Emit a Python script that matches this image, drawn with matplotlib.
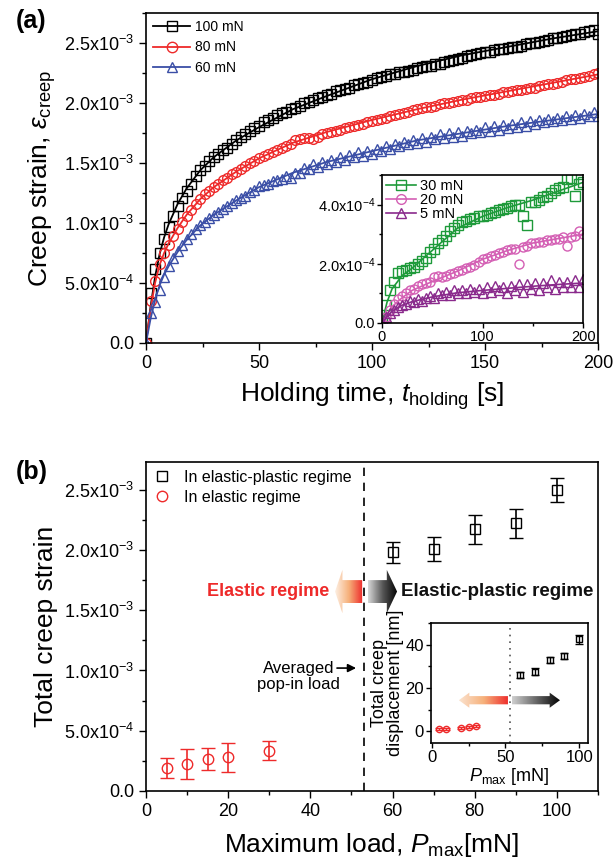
import numpy as np
import matplotlib
matplotlib.use('Agg')
import matplotlib.pyplot as plt
from matplotlib.patches import Polygon
from matplotlib.lines import Line2D
from matplotlib.colors import LinearSegmentedColormap
from matplotlib.ticker import FixedLocator, FixedFormatter, MultipleLocator

plt.rcParams['font.family'] = ['Liberation Sans', 'DejaVu Sans']
plt.rcParams['mathtext.fontset'] = 'custom'
plt.rcParams['mathtext.rm'] = 'Liberation Sans'
plt.rcParams['mathtext.it'] = 'Liberation Sans:italic'
plt.rcParams['mathtext.bf'] = 'Liberation Sans:bold'
plt.rcParams['axes.linewidth'] = 1.2

# ---------------- Panel (a) data ----------------
t_main = np.arange(0, 201, 2)
strain_100 = [0.00, 0.42, 0.62, 0.75, 0.87, 0.97, 1.06, 1.14, 1.21, 1.27,
              1.33, 1.39, 1.44, 1.48, 1.52, 1.55, 1.58, 1.61, 1.63, 1.66,
              1.69, 1.72, 1.74, 1.77, 1.79, 1.81, 1.84, 1.86, 1.88, 1.90,
              1.92, 1.93, 1.95, 1.96, 1.98, 2.00, 2.01, 2.03, 2.04, 2.05,
              2.07, 2.08, 2.10, 2.11, 2.12, 2.13, 2.15, 2.16, 2.17, 2.18,
              2.19, 2.21, 2.22, 2.23, 2.24, 2.24, 2.26, 2.26, 2.27, 2.28,
              2.29, 2.30, 2.31, 2.31, 2.33, 2.33, 2.34, 2.35, 2.36, 2.37,
              2.38, 2.39, 2.40, 2.41, 2.42, 2.43, 2.43, 2.44, 2.45, 2.45,
              2.46, 2.47, 2.47, 2.48, 2.49, 2.50, 2.50, 2.51, 2.52, 2.53,
              2.54, 2.54, 2.55, 2.56, 2.57, 2.58, 2.58, 2.59, 2.60, 2.61,
              2.58]
strain_80 = [0.00, 0.35, 0.52, 0.66, 0.75, 0.82, 0.89, 0.95, 1.01, 1.06,
             1.11, 1.16, 1.20, 1.24, 1.27, 1.30, 1.33, 1.36, 1.38, 1.41,
             1.43, 1.45, 1.48, 1.50, 1.52, 1.54, 1.56, 1.58, 1.59, 1.61,
             1.63, 1.64, 1.66, 1.69, 1.70, 1.71, 1.71, 1.70, 1.72, 1.74,
             1.75, 1.76, 1.77, 1.78, 1.79, 1.80, 1.81, 1.82, 1.83, 1.84,
             1.85, 1.86, 1.87, 1.88, 1.89, 1.90, 1.91, 1.92, 1.93, 1.94,
             1.95, 1.96, 1.97, 1.97, 1.98, 1.99, 2.00, 2.00, 2.01, 2.02,
             2.03, 2.03, 2.04, 2.05, 2.05, 2.06, 2.07, 2.07, 2.08, 2.09,
             2.09, 2.10, 2.11, 2.11, 2.12, 2.13, 2.13, 2.14, 2.15, 2.16,
             2.16, 2.17, 2.18, 2.19, 2.20, 2.20, 2.21, 2.22, 2.23, 2.24,
             2.25]
strain_60 = [0.00, 0.25, 0.34, 0.44, 0.55, 0.64, 0.71, 0.77, 0.82, 0.87,
             0.91, 0.95, 0.98, 1.01, 1.04, 1.07, 1.09, 1.12, 1.14, 1.17,
             1.19, 1.21, 1.23, 1.26, 1.28, 1.31, 1.32, 1.33, 1.35, 1.36,
             1.37, 1.39, 1.38, 1.42, 1.42, 1.46, 1.45, 1.49, 1.47, 1.51,
             1.49, 1.53, 1.51, 1.55, 1.53, 1.57, 1.55, 1.59, 1.56, 1.60,
             1.58, 1.62, 1.60, 1.64, 1.62, 1.66, 1.64, 1.68, 1.66, 1.69,
             1.67, 1.71, 1.68, 1.72, 1.70, 1.74, 1.71, 1.75, 1.72, 1.76,
             1.73, 1.77, 1.75, 1.78, 1.76, 1.80, 1.77, 1.81, 1.78, 1.82,
             1.79, 1.83, 1.80, 1.84, 1.81, 1.85, 1.83, 1.86, 1.84, 1.87,
             1.85, 1.88, 1.86, 1.89, 1.87, 1.90, 1.88, 1.91, 1.89, 1.93,
             1.89]
t_fit = [0, 2, 4, 6, 8, 10, 14, 18, 24, 30, 40, 50, 65, 80, 100, 120, 140, 160, 180, 200]
fit_100 = [0, 0.30, 0.55, 0.74, 0.88, 0.99, 1.16, 1.29, 1.44, 1.55, 1.69, 1.80, 1.95, 2.06, 2.20, 2.31, 2.40, 2.47, 2.54, 2.60]
fit_80 = [0, 0.28, 0.50, 0.65, 0.75, 0.83, 0.96, 1.07, 1.20, 1.30, 1.43, 1.54, 1.67, 1.76, 1.86, 1.95, 2.03, 2.10, 2.17, 2.24]
fit_60 = [0, 0.20, 0.36, 0.48, 0.57, 0.64, 0.76, 0.86, 0.98, 1.07, 1.19, 1.30, 1.42, 1.51, 1.60, 1.69, 1.75, 1.81, 1.86, 1.91]
labels_a = ['100 mN', '80 mN', '60 mN']

# inset (a)
t_ins = np.arange(0, 201, 4)
strain_30 = [0.0, 0.6, 1.1, 1.4, 1.7, 1.75, 1.8, 1.85, 1.9, 2.0,
             2.1, 2.2, 2.4, 2.5, 2.7, 2.8, 2.95, 3.1, 3.2, 3.3,
             3.4, 3.45, 3.5, 3.55, 3.6, 3.6, 3.65, 3.7, 3.75, 3.8,
             3.85, 3.9, 3.95, 4.0, 4.0, 3.6, 3.3, 4.1, 4.1, 4.15,
             4.25, 4.3, 4.4, 4.5, 4.55, 4.6, 4.85, 4.9, 4.3, 4.7,
             4.75]
strain_20 = [0.0, 0.2, 0.45, 0.65, 0.8, 0.9, 1.0, 1.1, 1.15, 1.25,
             1.3, 1.35, 1.4, 1.55, 1.6, 1.55, 1.6, 1.65, 1.7, 1.75,
             1.8, 1.85, 1.9, 1.95, 2.05, 2.15, 2.2, 2.25, 2.3, 2.35,
             2.4, 2.45, 2.5, 2.5, 2.0, 2.55, 2.6, 2.7, 2.7, 2.75,
             2.75, 2.8, 2.8, 2.85, 2.85, 2.9, 2.6, 2.9, 2.95, 3.1,
             3.0]
strain_5 = [0.0, 0.2, 0.35, 0.45, 0.55, 0.6, 0.65, 0.75, 0.7, 0.8,
            0.75, 0.85, 0.9, 0.85, 1.0, 0.95, 1.05, 0.95, 1.1, 1.0,
            1.1, 1.0, 1.15, 1.05, 1.15, 1.0, 1.2, 1.05, 1.25, 1.1,
            1.2, 1.0, 1.25, 1.1, 1.3, 1.05, 1.3, 1.15, 1.35, 1.1,
            1.35, 1.2, 1.45, 1.15, 1.4, 1.2, 1.4, 1.2, 1.45, 1.2,
            1.5]
t_fit_ins = [0, 5, 10, 20, 30, 50, 75, 100, 125, 150, 175, 200]
fit_30 = [0, 0.7, 1.15, 1.6, 1.85, 2.45, 3.2, 3.6, 3.9, 4.15, 4.45, 4.75]
fit_20 = [0, 0.3, 0.55, 0.85, 1.1, 1.4, 1.75, 2.15, 2.45, 2.7, 2.85, 3.0]
fit_5 = [0, 0.2, 0.4, 0.6, 0.72, 0.88, 1.02, 1.1, 1.17, 1.24, 1.3, 1.35]
labels_ins = ['30 mN', '20 mN', '5 mN']

# ---------------- Panel (b) data ----------------
P_ep = [60, 70, 80, 90, 100]
S_ep = [1.98, 2.01, 2.17, 2.22, 2.50]
E_ep = [0.09, 0.10, 0.12, 0.12, 0.10]
P_el = [5, 10, 15, 20, 30]
S_el = [0.19, 0.225, 0.265, 0.28, 0.335]
E_el = [0.08, 0.125, 0.09, 0.12, 0.08]
popin_load = 53
labels_b = ['In elastic-plastic regime', 'In elastic regime']

# inset (b)
D_ep = [26, 27.5, 33, 34.8, 42.5]
DE_ep = [1.5, 1.5, 1.5, 1.5, 2.0]
P_el_ins = [5, 10, 20, 25, 30]
D_el = [0.8, 0.9, 1.6, 2.0, 2.3]
DE_el = [0.5, 0.5, 0.5, 0.5, 0.5]

yt_a = [0, 0.5e-3, 1.0e-3, 1.5e-3, 2.0e-3, 2.5e-3]
ytl_a = ['0.0', r'5.0x10$^{-4}$', r'1.0x10$^{-3}$', r'1.5x10$^{-3}$', r'2.0x10$^{-3}$', r'2.5x10$^{-3}$']
yt_ins = [0, 2e-4, 4e-4]
ytl_ins = ['0.0', r'2.0x10$^{-4}$', r'4.0x10$^{-4}$']

RED = '#ee2a2a'
BLUE = '#3a4ea6'
GREEN = '#1e9a3a'
PINK = '#d45fb4'
PURPLE = '#8a2a8c'

fig = plt.figure(figsize=(6.15, 8.67), dpi=100)


def style(ax, fs):
    ax.tick_params(which='both', direction='out', top=False, right=False, labelsize=fs, width=1.0)
    ax.tick_params(which='major', length=5)
    ax.tick_params(which='minor', length=3)


def grad_arrow(ax, x_tip, x_base, x_end, y_c, head_h, body_h, cmap_cols, zorder=3):
    pts = [(x_tip, y_c), (x_base, y_c + head_h / 2), (x_base, y_c + body_h / 2),
           (x_end, y_c + body_h / 2), (x_end, y_c - body_h / 2), (x_base, y_c - body_h / 2),
           (x_base, y_c - head_h / 2)]
    poly = Polygon(pts, closed=True, facecolor='none', edgecolor='none', transform=ax.transData)
    ax.add_patch(poly)
    cm = LinearSegmentedColormap.from_list('g', cmap_cols)
    grad = np.linspace(0, 1, 256).reshape(1, -1)
    x0, x1 = min(x_tip, x_end), max(x_tip, x_end)
    if x_tip > x_end:
        grad = grad[:, ::-1]
    im = ax.imshow(grad, extent=[x0, x1, y_c - head_h / 2, y_c + head_h / 2], aspect='auto',
                   cmap=cm, zorder=zorder, interpolation='bilinear')
    im.set_clip_path(poly)


# ---------------- Panel (a) ----------------
ax1 = fig.add_axes([0.2374, 0.6044, 0.735, 0.3803])
tm = np.array(t_main)
for vals, fit, col, mk, lab in [(strain_100, fit_100, 'black', 's', labels_a[0]),
                                (strain_80, fit_80, RED, 'o', labels_a[1]),
                                (strain_60, fit_60, BLUE, '^', labels_a[2])]:
    ax1.plot(tm, np.array(vals) * 1e-3, ls='none', marker=mk, mfc='none', mec=col, ms=7, mew=1.0)
    ax1.plot(t_fit, np.array(fit) * 1e-3, color=col, lw=1.3)
    ax1.plot([], [], color=col, marker=mk, mfc='none', mec=col, ms=7.5, lw=1.3, label=lab)
ax1.set_xlim(0, 200)
ax1.set_ylim(0, 2.75e-3)
ax1.xaxis.set_major_locator(MultipleLocator(50))
ax1.xaxis.set_minor_locator(MultipleLocator(25))
ax1.yaxis.set_major_locator(FixedLocator(yt_a))
ax1.yaxis.set_major_formatter(FixedFormatter(ytl_a))
ax1.yaxis.set_minor_locator(MultipleLocator(2.5e-4))
style(ax1, 13)
ax1.set_xlabel(r'Holding time, $\it{t}_{\rm holding}$ [s]', fontsize=19, labelpad=6)
ax1.set_ylabel(r'Creep strain, $\varepsilon_{\rm creep}$', fontsize=19, labelpad=4)
ax1.legend(loc='upper left', frameon=False, fontsize=10, handlelength=2.7, labelspacing=0.45,
           borderaxespad=0.2, handletextpad=0.3, borderpad=0.3)
fig.text(0.025, 0.968, '(a)', fontsize=18, fontweight='bold')

# inset (a)
axi = fig.add_axes([0.6211, 0.6275, 0.327, 0.1707])
ti = np.array(t_ins)
for vals, fit, col, mk, lab in [(strain_30, fit_30, GREEN, 's', labels_ins[0]),
                                (strain_20, fit_20, PINK, 'o', labels_ins[1]),
                                (strain_5, fit_5, PURPLE, '^', labels_ins[2])]:
    axi.plot(ti, np.array(vals) * 1e-4, ls='none', marker=mk, mfc='none', mec=col, ms=6.5, mew=1.0)
    axi.plot(t_fit_ins, np.array(fit) * 1e-4, color=col, lw=1.2)
    axi.plot([], [], color=col, marker=mk, mfc='none', mec=col, ms=7, lw=1.2, label=lab)
axi.set_xlim(0, 200)
axi.set_ylim(0, 5e-4)
axi.xaxis.set_major_locator(MultipleLocator(100))
axi.xaxis.set_minor_locator(MultipleLocator(50))
axi.yaxis.set_major_locator(FixedLocator(yt_ins))
axi.yaxis.set_major_formatter(FixedFormatter(ytl_ins))
axi.yaxis.set_minor_locator(MultipleLocator(1e-4))
style(axi, 10.5)
axi.tick_params(which='major', length=3.5, pad=1.5)
axi.tick_params(which='minor', length=2)
axi.legend(loc='upper left', frameon=False, fontsize=10.5, handlelength=2.0, labelspacing=0.0,
           borderaxespad=0.1, handletextpad=0.3, borderpad=0.2)

# ---------------- Panel (b) ----------------
ax2 = fig.add_axes([0.2374, 0.0877, 0.735, 0.3794])
ax2.errorbar(P_ep, np.array(S_ep) * 1e-3, yerr=np.array(E_ep) * 1e-3, fmt='s', mfc='none', mec='black',
             ecolor='black', ms=7, mew=1.0, capsize=5, elinewidth=1.2, capthick=1.2)
ax2.errorbar(P_el, np.array(S_el) * 1e-3, yerr=np.array(E_el) * 1e-3, fmt='o', mfc='none', mec=RED,
             ecolor=RED, ms=7.5, mew=1.0, capsize=5, elinewidth=1.2, capthick=1.2)
ax2.axvline(popin_load, color='black', ls=(0, (5, 4)), lw=1.2)
ax2.xaxis.set_major_locator(MultipleLocator(20))
ax2.xaxis.set_minor_locator(MultipleLocator(10))
ax2.yaxis.set_major_locator(FixedLocator(yt_a))
ax2.yaxis.set_major_formatter(FixedFormatter(ytl_a))
ax2.yaxis.set_minor_locator(MultipleLocator(2.5e-4))
style(ax2, 13)
ax2.set_xlabel(r'Maximum load, $\it{P}_{\rm max}$[mN]', fontsize=19, labelpad=8)
ax2.set_ylabel('Total creep strain', fontsize=19, labelpad=4)
handles_b = [Line2D([], [], ls='none', marker='s', mfc='none', mec='black', ms=7, mew=1.0),
             Line2D([], [], ls='none', marker='o', mfc='none', mec=RED, ms=7.5, mew=1.0)]
ax2.legend(handles_b, labels_b, loc='upper left', frameon=False, fontsize=11.5, handlelength=1.0,
           labelspacing=0.3, borderaxespad=0.2, handletextpad=0.9, borderpad=0.3)
fig.text(0.025, 0.447, '(b)', fontsize=18, fontweight='bold')

grad_arrow(ax2, 46.0, 47.8, 52.6, 1.655e-3, 0.36e-3, 0.19e-3, ['#fdf0e4', '#f6b07a', '#ee2a2a'])
grad_arrow(ax2, 61.1, 58.6, 54.0, 1.655e-3, 0.36e-3, 0.19e-3, ['#000000', '#555555', '#d8d8d8'])
ax2.set_xlim(0, 110)
ax2.set_ylim(0, 2.73e-3)
ax2.text(44.6, 1.655e-3, 'Elastic regime', color=RED, fontsize=13, fontweight='bold',
         ha='right', va='center')
ax2.text(62.0, 1.655e-3, 'Elastic-plastic regime', color='#111111', fontsize=13.5, fontweight='bold',
         ha='left', va='center')
ax2.annotate('', xy=(51.8, 1.02e-3), xytext=(45.8, 1.02e-3),
             arrowprops=dict(arrowstyle='-|>', color='black', lw=1.2, mutation_scale=12))
ax2.text(45.8, 1.02e-3, 'Averaged', fontsize=12, ha='right', va='center')
ax2.text(37.0, 0.88e-3, 'pop-in load', fontsize=12, ha='center', va='center')

# inset (b)
axb = fig.add_axes([0.7008, 0.1430, 0.2553, 0.1384])
axb.errorbar(P_ep, D_ep, yerr=DE_ep, fmt='s', mfc='none', mec='black', ecolor='black',
             ms=4.5, mew=1.0, capsize=3, elinewidth=1.0, capthick=1.0)
axb.errorbar(P_el_ins, D_el, yerr=DE_el, fmt='o', mfc='none', mec=RED, ecolor=RED,
             ms=4.5, mew=1.0, capsize=3, elinewidth=1.0, capthick=1.0)
axb.axvline(popin_load, color='#555555', ls=(0, (1, 3)), lw=1.2)
grad_arrow(axb, 18.4, 25.5, 51.7, 14.3, 7.0, 3.8, ['#fbe3cf', '#f6b07a', '#ee2a2a'])
grad_arrow(axb, 87.0, 80.0, 54.4, 14.3, 7.0, 3.8, ['#000000', '#666666', '#cfcfcf'])
axb.set_xlim(-0.5, 106)
axb.set_ylim(-5.5, 50)
axb.xaxis.set_major_locator(MultipleLocator(50))
axb.xaxis.set_minor_locator(MultipleLocator(25))
axb.yaxis.set_major_locator(MultipleLocator(20))
axb.yaxis.set_minor_locator(MultipleLocator(10))
style(axb, 12)
axb.tick_params(which='major', length=3.5, pad=1.5)
axb.tick_params(which='minor', length=2)
axb.set_xlabel(r'$\it{P}_{\rm max}$ [mN]', fontsize=13, labelpad=1)
axb.set_ylabel('Total creep\ndisplacement [nm]', fontsize=13, labelpad=1, linespacing=0.95)

fig.savefig('out.png', dpi=100)
